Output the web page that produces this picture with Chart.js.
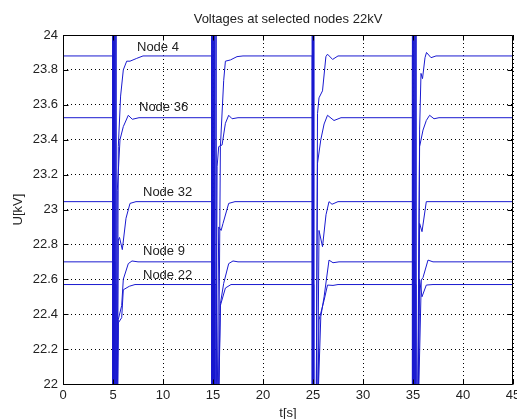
<!DOCTYPE html>
<html>
<head>
<meta charset="utf-8">
<script src="https://cdn.jsdelivr.net/npm/chart.js@4/dist/chart.umd.min.js"></script>
<style>
html,body{margin:0;padding:0;background:#fff;}
canvas{display:block;}
</style>
</head>
<body>
<canvas id="c" width="517" height="419"></canvas>
<script>
// ---- data (t [s], U [kV]) ----
const node4 = [[0,23.88],[4.96,23.88],[4.96,24.4],[4.97,21.6],[5.42,21.7],[5.53,23.36],[5.76,23.65],[6.03,23.8],[6.37,23.85],[6.7,23.85],[7.37,23.866],[8.0,23.88],
  [14.86,23.88],[14.86,24.4],[14.87,21.6],[15.55,21.9],[15.74,23.36],[16.07,23.74],[16.24,23.85],[16.74,23.857],[17.4,23.876],[18.0,23.88],
  [24.92,23.88],[24.92,24.4],[24.93,21.6],[25.32,21.7],[25.45,23.55],[25.6,23.64],[25.95,23.68],[26.29,23.876],[26.45,23.89],[26.96,23.86],[27.5,23.88],
  [34.94,23.88],[34.94,24.4],[34.95,21.6],[35.5,21.8],[35.66,23.456],[35.8,23.78],[35.95,23.75],[36.2,23.87],[36.35,23.9],[36.8,23.87],[37.3,23.88],[45,23.88]];
const node36 = [[0,23.526],[5.04,23.526],[5.04,24.4],[5.05,21.6],[5.33,21.7],[5.43,23.11],[5.7,23.40],[6.03,23.475],[6.53,23.54],[6.93,23.517],[7.6,23.526],
  [14.96,23.526],[14.96,24.4],[14.97,21.6],[15.3,21.7],[15.41,23.245],[15.57,23.36],[15.91,23.37],[16.24,23.494],[16.57,23.54],[16.91,23.52],[17.5,23.526],
  [24.96,23.526],[24.96,24.4],[24.97,21.6],[25.3,21.7],[25.45,23.265],[25.78,23.40],[26.11,23.49],[26.45,23.54],[27.1,23.51],[27.8,23.526],
  [35.02,23.526],[35.02,24.4],[35.03,21.6],[35.45,21.8],[35.66,23.36],[36.0,23.455],[36.33,23.51],[36.66,23.54],[37.1,23.52],[37.6,23.526],[45,23.526]];
const node32 = [[0,23.045],[5.12,23.045],[5.12,24.4],[5.13,21.6],[5.4,21.7],[5.53,22.825],[5.65,22.84],[5.93,22.77],[6.3,22.95],[6.7,23.035],[7.3,23.045],
  [15.06,23.045],[15.06,24.4],[15.07,21.6],[15.4,21.7],[15.57,22.9],[15.81,22.88],[16.0,22.92],[16.57,23.035],[17.2,23.045],
  [25.0,23.045],[25.0,24.4],[25.01,21.6],[25.45,21.8],[25.6,22.88],[25.95,22.787],[26.3,22.97],[26.6,23.045],[26.9,23.03],[27.5,23.045],
  [35.1,23.045],[35.1,24.4],[35.11,21.6],[35.5,21.8],[35.66,22.92],[35.9,22.873],[36.33,23.045],[37.0,23.045],[45,23.045]];
const node9 = [[0,22.70],[5.2,22.70],[5.2,24.4],[5.21,21.6],[5.45,21.8],[5.53,22.37],[5.87,22.45],[6.03,22.6],[6.53,22.69],[6.9,22.705],[7.5,22.70],
  [15.16,22.70],[15.16,24.4],[15.17,21.6],[15.55,21.8],[15.74,22.46],[16.07,22.577],[16.57,22.69],[17.0,22.705],[17.5,22.70],
  [25.04,22.70],[25.04,24.4],[25.05,21.6],[25.5,21.9],[25.78,22.386],[26.11,22.5],[26.6,22.71],[27.0,22.695],[27.6,22.70],
  [35.2,22.70],[35.2,24.4],[35.21,21.6],[35.55,21.9],[35.83,22.596],[36.0,22.61],[36.5,22.71],[37.0,22.70],[45,22.70]];
const node22 = [[0,22.57],[5.3,22.57],[5.3,24.4],[5.31,21.6],[5.45,21.9],[5.53,22.35],[5.87,22.38],[6.03,22.54],[6.63,22.56],[7.2,22.57],
  [15.3,22.57],[15.3,24.4],[15.31,21.6],[15.55,21.9],[15.74,22.45],[16.24,22.55],[16.8,22.57],
  [25.08,22.57],[25.08,24.4],[25.09,21.6],[25.5,21.9],[25.6,22.367],[26.11,22.48],[26.45,22.567],[27.0,22.565],[27.5,22.57],
  [35.3,22.57],[35.3,24.4],[35.31,21.6],[35.55,22.0],[35.66,22.596],[35.9,22.5],[36.33,22.567],[37.0,22.57],[45,22.57]];

const seriesNames = ['Node 4','Node 36','Node 32','Node 9','Node 22'];
const seriesData = [node4, node36, node32, node9, node22];

// text annotations next to the curves (anchor t, U)
const labelT = [7.4, 7.6, 8.0, 8.0, 8.0];
const labelU = [23.93, 23.587, 23.10, 22.762, 22.625];

const xTicks = [0,5,10,15,20,25,30,35,40,45];
const xTickLabels = ['0','5','10','15','20','25','30','35','40','45'];
const yTicks = [22,22.2,22.4,22.6,22.8,23,23.2,23.4,23.6,23.8,24];
const yTickLabels = ['22','22.2','22.4','22.6','22.8','23','23.2','23.4','23.6','23.8','24'];

const FONT = "'Liberation Sans', Arial, sans-serif";
const TXT = '#222';
const LINE = '#1a1ad0';

const framePlugin = {
  id: 'frame',
  afterDatasetsDraw(chart) {
    const {ctx, chartArea: a, scales: {x, y}} = chart;
    const L = Math.round(a.left) + 0.5, R = Math.round(a.right) - 0.5;
    const T = Math.round(a.top) + 0.5, B = Math.round(a.bottom) + 0.5;
    ctx.save();
    ctx.strokeStyle = '#000';
    ctx.lineWidth = 1;
    ctx.beginPath();
    ctx.rect(L, T, R - L, B - T);
    const tl = 5;
    xTicks.forEach(v => {
      const px = Math.round(x.getPixelForValue(v)) + 0.5;
      ctx.moveTo(px, B); ctx.lineTo(px, B - tl);
      ctx.moveTo(px, T); ctx.lineTo(px, T + tl);
    });
    yTicks.forEach(v => {
      const py = Math.round(y.getPixelForValue(v)) + 0.5;
      ctx.moveTo(L, py); ctx.lineTo(L + tl, py);
      ctx.moveTo(R, py); ctx.lineTo(R - tl, py);
    });
    ctx.stroke();
    // curve labels
    ctx.fillStyle = TXT;
    ctx.font = '13px ' + FONT;
    ctx.textAlign = 'left';
    ctx.textBaseline = 'middle';
    seriesNames.forEach((n, i) => {
      ctx.fillText(n, x.getPixelForValue(labelT[i]), y.getPixelForValue(labelU[i]));
    });
    ctx.restore();
  }
};

new Chart(document.getElementById('c'), {
  type: 'line',
  data: {
    datasets: seriesData.map((d, i) => ({
      label: seriesNames[i],
      data: d.map(p => ({x: p[0], y: p[1]})),
      borderColor: LINE,
      borderWidth: 1,
      pointRadius: 0,
      tension: 0,
      fill: false
    }))
  },
  options: {
    responsive: false,
    animation: false,
    events: [],
    layout: {padding: {left: 0, right: 4, top: 0, bottom: 0}},
    plugins: {
      legend: {display: false},
      tooltip: {enabled: false},
      title: {
        display: true,
        fullSize: false,
        text: 'Voltages at selected nodes 22kV',
        color: TXT,
        font: {family: FONT, size: 13, weight: 'normal', lineHeight: 1.2},
        padding: {top: 12, bottom: 7.4}
      }
    },
    scales: {
      x: {
        type: 'linear', min: 0, max: 45,
        afterBuildTicks: s => { s.ticks = xTicks.map(v => ({value: v})); },
        afterFit: s => { s.height = 35; s.paddingLeft = 0; s.paddingRight = 0; },
        ticks: {
          autoSkip: false, maxRotation: 0, padding: 4, color: TXT,
          font: {family: FONT, size: 13},
          callback: (v, i) => xTickLabels[i]
        },
        grid: {color: '#000', lineWidth: 1, drawTicks: false},
        border: {display: false, dash: [1, 3]},
        title: {display: true, text: 't[s]', color: TXT,
          font: {family: FONT, size: 13, lineHeight: 0.9}, padding: {top: 0, bottom: 0}}
      },
      y: {
        type: 'linear', min: 22, max: 24,
        afterBuildTicks: s => { s.ticks = yTicks.map(v => ({value: v})); },
        afterFit: s => { s.width = 63; s.paddingTop = 0; s.paddingBottom = 0; },
        ticks: {
          autoSkip: false, padding: 5, color: TXT,
          font: {family: FONT, size: 13},
          callback: (v, i) => yTickLabels[i]
        },
        grid: {color: '#000', lineWidth: 1, drawTicks: false},
        border: {display: false, dash: [1, 3]},
        title: {display: true, text: 'U[kV]', color: TXT,
          font: {family: FONT, size: 13, lineHeight: 1}, padding: {top: 11.5, bottom: 0}}
      }
    }
  },
  plugins: [framePlugin]
});
</script>
</body>
</html>
